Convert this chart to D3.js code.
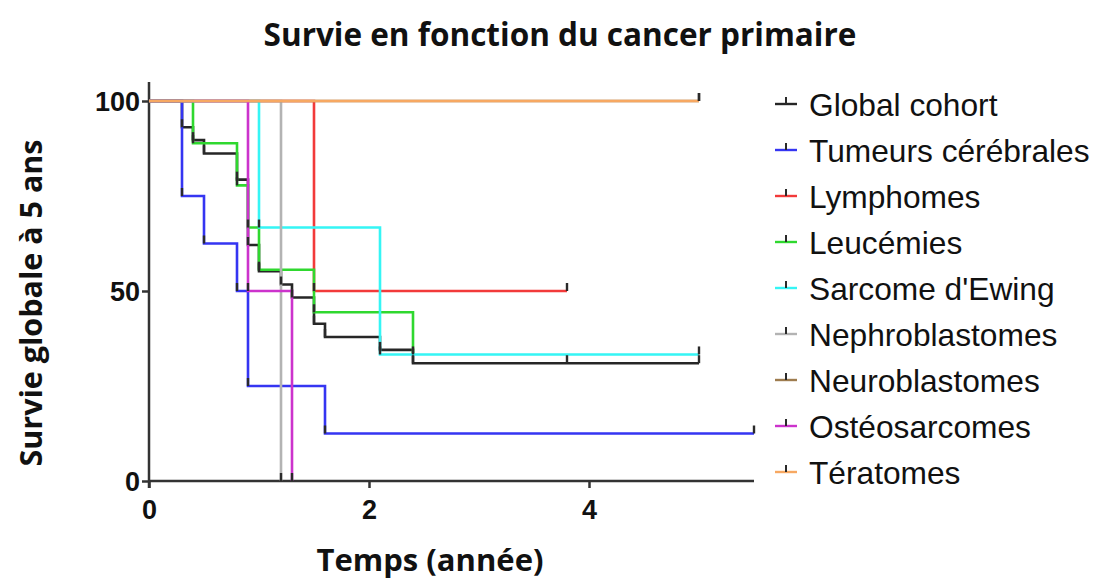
<!DOCTYPE html>
<html>
<head>
<meta charset="utf-8">
<script src="https://cdn.jsdelivr.net/npm/d3@7"></script>
<style>
  html, body { margin: 0; padding: 0; background: #fff; }
  svg { display: block; }
</style>
</head>
<body>
<svg id="chart" width="1094" height="582"></svg>
<script>
// ---------------- DATA ----------------
const chartTitle = "Survie en fonction du cancer primaire";
const xTitle = "Temps (année)";
const yTitle = "Survie globale à 5 ans";
const xTicks = [0, 2, 4];
const yTicks = [0, 50, 100];

const seriesNames = ["Global cohort", "Tumeurs cérébrales", "Lymphomes", "Leucémies",
  "Sarcome d'Ewing", "Nephroblastomes", "Neuroblastomes", "Ostéosarcomes", "Tératomes"];

// event steps: [time (years), survival (%) after the step]
const globalCohort = [[0.3, 93.1], [0.4, 89.7], [0.5, 86.2], [0.8, 79.3], [0.9, 62.1], [1.0, 55.2],
  [1.2, 51.7], [1.3, 48.3], [1.5, 41.4], [1.6, 37.9], [2.1, 34.5], [2.4, 31.0]];
const tumeursCerebrales = [[0.3, 75], [0.5, 62.5], [0.8, 50], [0.9, 25], [1.6, 12.5]];
const lymphomes = [[1.5, 50]];
const leucemies = [[0.4, 88.9], [0.8, 77.8], [0.9, 66.7], [1.0, 55.6], [1.5, 44.4], [2.4, 33.3]];
const sarcomeEwing = [[1.0, 66.7], [2.1, 33.3]];
const nephroblastomes = [[1.2, 0]];
const neuroblastomes = [];
const osteosarcomes = [[0.9, 50], [1.3, 0]];
const teratomes = [];

const seriesEvents = [globalCohort, tumeursCerebrales, lymphomes, leucemies, sarcomeEwing,
  nephroblastomes, neuroblastomes, osteosarcomes, teratomes];
// last follow-up time of each curve
const endTimes = [5.0, 5.5, 3.8, 2.4, 5.0, 1.2, 5.0, 1.3, 5.0];
// censored times
const censorTimes = [[3.8, 5.0], [5.5], [3.8], [], [5.0], [], [5.0], [], [5.0]];

// ---------------- STYLE ----------------
const seriesColors = ["#262626", "#3535f2", "#f23a3a", "#2fd82f", "#35f5f5",
  "#b3b3b3", "#9e7c4f", "#cc33cc", "#f7a862"];
const tickColor = "#2a2a2a";

const svg = d3.select("#chart");
const x = d3.scaleLinear().domain([0, 5.5]).range([149, 754]);
const y = d3.scaleLinear().domain([0, 105]).range([481, 82]);

// title
svg.append("text")
  .attr("x", 560).attr("y", 46)
  .attr("text-anchor", "middle")
  .style("font-family", "'Open Sans', sans-serif")
  .style("font-weight", "700")
  .style("font-size", "31.5px")
  .attr("fill", "#111")
  .text(chartTitle);

// axes
const axisFont = "'Liberation Sans', Arial, sans-serif";
const gx = svg.append("g").attr("transform", `translate(0,${y(0)})`)
  .call(d3.axisBottom(x).tickValues(xTicks).tickSize(7).tickPadding(12).tickFormat(d3.format("d")));
const gy = svg.append("g").attr("transform", `translate(${x(0)},0)`)
  .call(d3.axisLeft(y).tickValues(yTicks).tickSize(7).tickPadding(2).tickFormat(d3.format("d")));
[gx, gy].forEach(g => {
  g.select(".domain").attr("stroke", "#333").attr("stroke-width", 2.5);
  g.selectAll(".tick line").attr("stroke", "#333").attr("stroke-width", 2.5);
  g.selectAll(".tick text")
    .style("font-family", axisFont).style("font-weight", "700").style("font-size", "27px")
    .attr("fill", "#111");
});
gx.select(".domain").attr("d", `M${x(0)},0H${x(5.5)}`);
gy.select(".domain").attr("d", `M0,${y(105)}V${y(0) + 7}`);
gy.selectAll(".tick text").attr("dy", "0.36em");

// axis titles
svg.append("text")
  .attr("x", 430).attr("y", 571)
  .attr("text-anchor", "middle")
  .style("font-family", "'Open Sans', sans-serif").style("font-weight", "700").style("font-size", "31px")
  .attr("fill", "#111").text(xTitle);
svg.append("text")
  .attr("transform", "translate(42,303) rotate(-90)")
  .attr("text-anchor", "middle")
  .style("font-family", "'Open Sans', sans-serif").style("font-weight", "700").style("font-size", "30.5px")
  .attr("fill", "#111").text(yTitle);

// curves
const line = d3.line().x(d => x(d[0])).y(d => y(d[1])).curve(d3.curveStepAfter);
const plot = svg.append("g");
seriesEvents.forEach((ev, i) => {
  const pts = [[0, 100]].concat(ev);
  const last = pts[pts.length - 1][1];
  const endT = endTimes[i];
  if (endT > pts[pts.length - 1][0]) pts.push([endT, last]);
  plot.append("path")
    .attr("d", line(pts))
    .attr("fill", "none")
    .attr("stroke", seriesColors[i])
    .attr("stroke-width", 2.6);
});
// tick marks at events and censored points
seriesEvents.forEach((ev, i) => {
  const marks = ev.slice();
  const survAt = t => {
    let s = 100;
    ev.forEach(e => { if (e[0] <= t) s = e[1]; });
    return s;
  };
  censorTimes[i].forEach(t => marks.push([t, survAt(t)]));
  plot.selectAll(null).data(marks).enter().append("line")
    .attr("x1", d => x(d[0])).attr("x2", d => x(d[0]))
    .attr("y1", d => y(d[1])).attr("y2", d => y(d[1]) - 8)
    .attr("stroke", tickColor).attr("stroke-width", 2.4);
});

// legend
const legend = svg.append("g");
seriesNames.forEach((name, i) => {
  const ly = 104 + i * 46;
  legend.append("line").attr("x1", 775).attr("x2", 797).attr("y1", ly).attr("y2", ly)
    .attr("stroke", seriesColors[i]).attr("stroke-width", 2.4);
  legend.append("line").attr("x1", 786).attr("x2", 786).attr("y1", ly).attr("y2", ly - 7)
    .attr("stroke", tickColor).attr("stroke-width", 2);
  legend.append("text").attr("x", 809).attr("y", ly + 11.5)
    .style("font-family", axisFont).style("font-size", "31.7px")
    .attr("fill", "#111").text(name);
});
</script>
</body>
</html>
